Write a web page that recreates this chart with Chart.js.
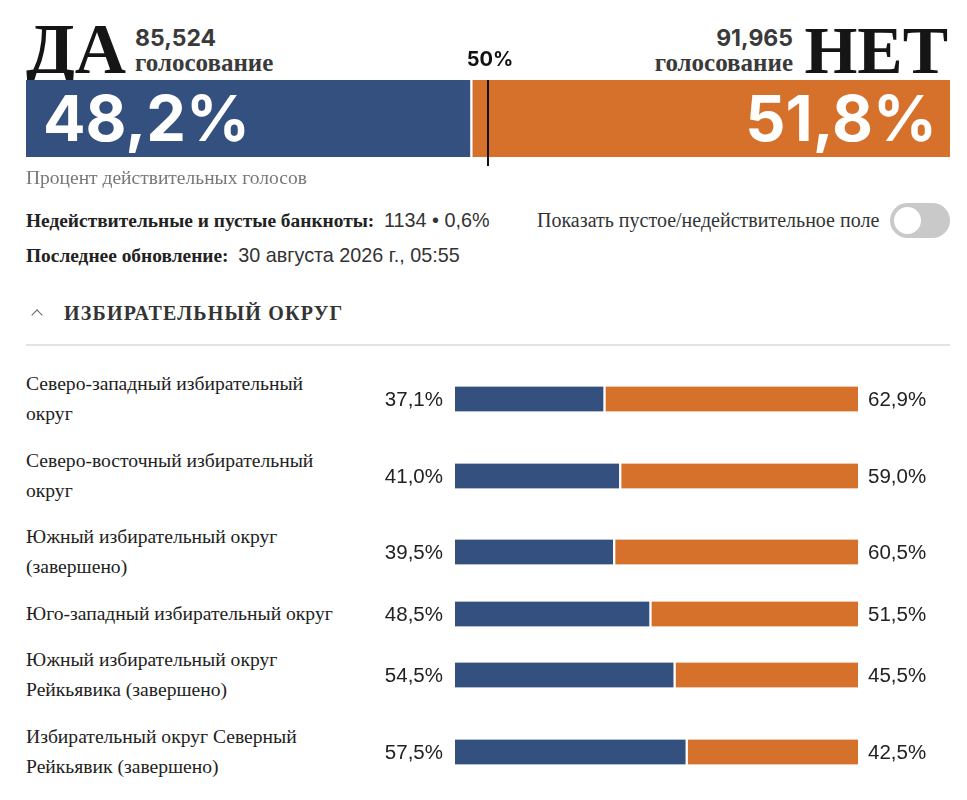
<!DOCTYPE html>
<html><head><meta charset="utf-8">
<script src="https://cdn.jsdelivr.net/npm/chart.js@4"></script>
<style>
html,body{margin:0;padding:0;background:#fff}
body{width:967px;height:800px;overflow:hidden;position:relative;font-family:"Liberation Serif",serif;color:#222}
.abs{position:absolute;white-space:nowrap}
.big{font-family:"Liberation Serif",serif;font-weight:bold;line-height:68px;color:#151515}
.cnt{font-family:Inter,"Liberation Sans",sans-serif;font-weight:700;font-size:23px;line-height:23px;color:#3a3a3a}
.gol{font-family:"Liberation Serif",serif;font-weight:bold;font-size:25px;line-height:24px;color:#3a3a3a}
.meta{font-size:19.4px;line-height:18px;color:#222}
.meta b{font-weight:bold}
.sans{font-family:"Liberation Sans",sans-serif;font-size:19.8px;color:#333}
#rows{position:absolute;left:0;top:369px;width:967px;display:flex;flex-direction:column;gap:16.5px}
.row{position:relative;width:967px}
.row .lbl{position:absolute;left:26px;top:0;font-size:19.6px;line-height:30px;color:#222;white-space:nowrap}
.row canvas{position:absolute;left:370px;top:0}
</style></head><body>
<script>
// ---- data ----
const sides = ["ДА", "НЕТ"];
const totalVotes = ["85,524", "91,965"];
const totalPct = [48.2, 51.8];
const threshold = 50;
const invalidCount = "1134";
const invalidPct = 0.6;
const updated = "30 августа 2026 г., 05:55";
const districts = [
  ["Северо-западный избирательный", "округ"],
  ["Северо-восточный избирательный", "округ"],
  ["Южный избирательный округ", "(завершено)"],
  ["Юго-западный избирательный округ"],
  ["Южный избирательный округ", "Рейкьявика (завершено)"],
  ["Избирательный округ Северный", "Рейкьявик (завершено)"]
];
const yesPct = [37.1, 41.0, 39.5, 48.5, 54.5, 57.5];
const noPct  = [62.9, 59.0, 60.5, 51.5, 45.5, 42.5];
</script>

<div class="abs big" style="left:26px;top:15px;font-size:71px">ДА</div>
<div class="abs cnt" id="yesVotes" style="left:135px;top:27px"></div>
<div class="abs gol" style="left:135px;top:51px">голосование</div>
<div class="abs big" style="right:19px;top:16px;font-size:68px">НЕТ</div>
<div class="abs cnt" id="noVotes" style="right:174px;top:27px"></div>
<div class="abs gol" style="right:174px;top:51px">голосование</div>

<canvas id="top" class="abs" style="left:26px;top:45px" width="924" height="125"></canvas>

<div class="abs" style="left:26px;top:169px;font-size:19.5px;line-height:17px;color:#777">Процент действительных голосов</div>
<div class="abs meta" style="left:26px;top:211px"><b>Недействительные и пустые банкноты:</b>&nbsp; <span class="sans" id="inv"></span></div>
<div class="abs meta" style="left:26px;top:246px"><b>Последнее обновление:</b>&nbsp; <span class="sans" id="upd"></span></div>
<div class="abs meta" style="left:537px;top:211px;color:#333;font-size:20px">Показать пустое/недействительное поле</div>
<div class="abs" style="left:890px;top:203px;width:60px;height:35px;border-radius:18px;background:#c9c9c9">
  <div style="position:absolute;left:4px;top:4px;width:27px;height:27px;border-radius:50%;background:#fff"></div>
</div>

<div class="abs" style="left:33px;top:311px;width:7px;height:7px;border-left:1.5px solid #666;border-top:1.5px solid #666;transform:rotate(45deg)"></div>
<div class="abs" style="left:64px;top:303px;font-size:20px;line-height:20px;font-weight:bold;letter-spacing:1.2px;color:#333">ИЗБИРАТЕЛЬНЫЙ ОКРУГ</div>
<div class="abs" style="left:26px;top:344px;width:924px;height:2px;background:#e3e3e3"></div>

<div id="rows"></div>

<script>
const BLUE = "#34507f", ORANGE = "#d6712b";
const fmt = v => v.toFixed(1).replace(".", ",") + "%";
document.getElementById("yesVotes").textContent = totalVotes[0];
document.getElementById("noVotes").textContent = totalVotes[1];
document.getElementById("inv").textContent = invalidCount + " • " + invalidPct.toFixed(1).replace(".", ",") + "%";
document.getElementById("upd").textContent = updated;

// ---- top summary bar ----
const topPlugin = {
  id: "topLabels",
  afterDatasetsDraw(chart) {
    const c = chart.ctx, xs = chart.scales.x;
    const a = chart.getDatasetMeta(0).data[0], b = chart.getDatasetMeta(1).data[0];
    c.save();
    c.fillStyle = "#fff";
    c.font = "bold 63px Inter, 'Liberation Sans', sans-serif";
    c.textBaseline = "alphabetic";
    c.textAlign = "left";
    c.fillText(fmt(totalPct[0]), a.base + 17, 96);
    c.textAlign = "right";
    c.fillText(fmt(totalPct[1]), b.x - 13, 96);
    const mx = xs.getPixelForValue(threshold);
    c.strokeStyle = "#111"; c.lineWidth = 2;
    c.beginPath(); c.moveTo(mx, chart.chartArea.top); c.lineTo(mx, 121); c.stroke();
    c.fillStyle = "#111"; c.textAlign = "center";
    c.font = "bold 20px Inter, 'Liberation Sans', sans-serif";
    c.fillText(threshold + "%", mx + 2, 21);
    c.restore();
  }
};
new Chart(document.getElementById("top"), {
  type: "bar",
  data: {
    labels: ["total"],
    datasets: [
      { label: sides[0], data: [totalPct[0]], backgroundColor: BLUE, borderColor: "#fff", borderWidth: { right: 1.5, left: 0, top: 0, bottom: 0 }, borderSkipped: false },
      { label: sides[1], data: [totalPct[1]], backgroundColor: ORANGE, borderColor: "#fff", borderWidth: { left: 1.5, right: 0, top: 0, bottom: 0 }, borderSkipped: false }
    ]
  },
  options: {
    indexAxis: "y", responsive: false, animation: false,
    layout: { padding: { top: 35, bottom: 13, left: 0, right: 0 } },
    scales: { x: { stacked: true, min: 0, max: 100, display: false }, y: { stacked: true, display: false } },
    datasets: { bar: { barPercentage: 1, categoryPercentage: 1 } },
    plugins: { legend: { display: false }, tooltip: { enabled: false } }
  },
  plugins: [topPlugin]
});

// ---- district rows ----
const rowPlugin = {
  id: "rowLabels",
  afterDatasetsDraw(chart) {
    const c = chart.ctx;
    const a = chart.getDatasetMeta(0).data[0], b = chart.getDatasetMeta(1).data[0];
    const ds = chart.data.datasets;
    c.save();
    c.fillStyle = "#222";
    c.font = "20.5px 'Liberation Sans', sans-serif";
    c.textBaseline = "middle";
    c.textAlign = "right";
    c.fillText(fmt(ds[0].data[0]), a.base - 12, a.y + 1);
    c.textAlign = "left";
    c.fillText(fmt(ds[1].data[0]), b.x + 10, b.y + 1);
    c.restore();
  }
};
const rowsEl = document.getElementById("rows");
districts.forEach((lines, i) => {
  const h = lines.length * 30;
  const row = document.createElement("div");
  row.className = "row"; row.style.height = h + "px";
  const lbl = document.createElement("div");
  lbl.className = "lbl"; lbl.innerHTML = lines.join("<br>");
  const cv = document.createElement("canvas");
  cv.width = 580; cv.height = h;
  row.appendChild(lbl); row.appendChild(cv); rowsEl.appendChild(row);
  new Chart(cv, {
    type: "bar",
    data: {
      labels: [lines.join(" ")],
      datasets: [
        { label: sides[0], data: [yesPct[i]], backgroundColor: BLUE, borderColor: "#fff", borderWidth: { right: 1.5, left: 0, top: 0, bottom: 0 }, borderSkipped: false },
        { label: sides[1], data: [noPct[i]], backgroundColor: ORANGE, borderColor: "#fff", borderWidth: { left: 1.5, right: 0, top: 0, bottom: 0 }, borderSkipped: false }
      ]
    },
    options: {
      indexAxis: "y", responsive: false, animation: false,
      layout: { padding: { left: 85, right: 92, top: 0, bottom: 0 } },
      scales: { x: { stacked: true, min: 0, max: 100, display: false }, y: { stacked: true, display: false } },
      datasets: { bar: { barThickness: 25 } },
      plugins: { legend: { display: false }, tooltip: { enabled: false } }
    },
    plugins: [rowPlugin]
  });
});
</script>
</body></html>
